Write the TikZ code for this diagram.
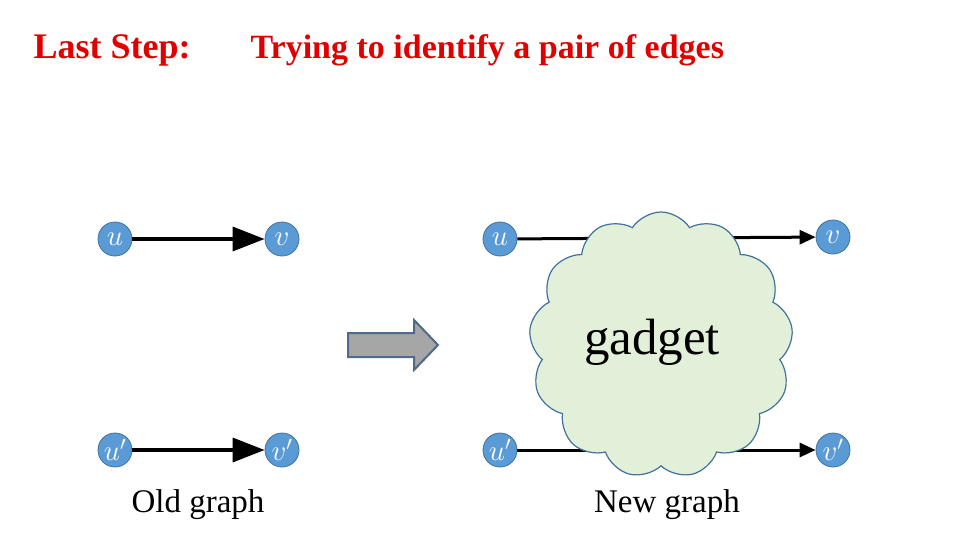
\documentclass[tikz,border=0pt]{standalone}
\usepackage{fix-cm}
\usepackage{fontspec}
\setmainfont{Liberation Serif}
\usetikzlibrary{arrows.meta,shapes.symbols}
\definecolor{titleRed}{HTML}{E00000}
\definecolor{vertexBlue}{HTML}{5B9BD5}
\definecolor{vertexEdge}{HTML}{41719C}
\definecolor{cloudGreen}{HTML}{E2EFD9}
\definecolor{arrowGray}{HTML}{A6A6A6}
\definecolor{arrowEdge}{HTML}{4E6A8C}

\tikzset{
    vertex/.style={circle, fill=vertexBlue, draw=vertexEdge, line width=0.8pt,
        minimum size=34pt, inner sep=0pt, text=white, font=\fontsize{29}{29}\selectfont},
    oldedge/.style={line width=3.5pt, -{Triangle[length=32pt,width=24pt]}},
    newedge/.style={line width=3pt, -{Triangle[length=16pt,width=14pt]}},
}

\begin{document}
\begin{tikzpicture}[x=1pt, y=-1pt]

    \useasboundingbox (0,0) rectangle (960,540);

    % title
    \node[anchor=base west, text=titleRed, font=\fontsize{36}{36}\selectfont\bfseries]
        (title) at (30,59) {Last Step:};
    \node[anchor=base west, text=titleRed, font=\fontsize{34}{34}\selectfont\bfseries]
        (subtitle) at (247,59) {Trying to identify a pair of edges};

    % old graph
    \node[vertex] (u)  at (115,239) {$u$};
    \node[vertex] (v)  at (282,239) {$v$};
    \node[vertex] (u2) at (115,450) {$u'$};
    \node[vertex] (v2) at (282,450) {$v'$};
    \draw[oldedge] (u) -- (v);
    \draw[oldedge] (u2) -- (v2);
    \node[font=\fontsize{33}{33}\selectfont] (oldlabel) at (198,505) {Old graph};

    % block arrow
    \fill[arrowGray] (348,333) -- (414,333) -- (414,320) -- (438,345)
        -- (414,370) -- (414,357) -- (348,357) -- cycle;
    \draw[arrowEdge, line width=2pt, line join=miter] (348,333) -- (414,333) -- (414,320)
        -- (438,345) -- (414,370) -- (414,357) -- (348,357) -- cycle;

    % new graph
    \node[vertex] (nu)  at (500,239) {$u$};
    \node[vertex] (nv)  at (833,237) {$v$};
    \node[vertex] (nu2) at (500,450) {$u'$};
    \node[vertex] (nv2) at (833,450) {$v'$};
    \draw[newedge] (nu) -- (nv);
    \draw[newedge] (nu2) -- (nv2);

    % gadget cloud
    \node[cloud, cloud puffs=13, cloud puff arc=115, aspect=1,
        fill=cloudGreen, draw=vertexEdge, line width=1.2pt,
        minimum width=264pt, minimum height=266pt, inner sep=0pt] (gadget) at (661,345) {};
    \node[font=\fontsize{51}{51}\selectfont] (gadgetlabel) at (652,342) {gadget};

    \node[font=\fontsize{33}{33}\selectfont] (newlabel) at (667,505) {New graph};

\end{tikzpicture}
\end{document}
